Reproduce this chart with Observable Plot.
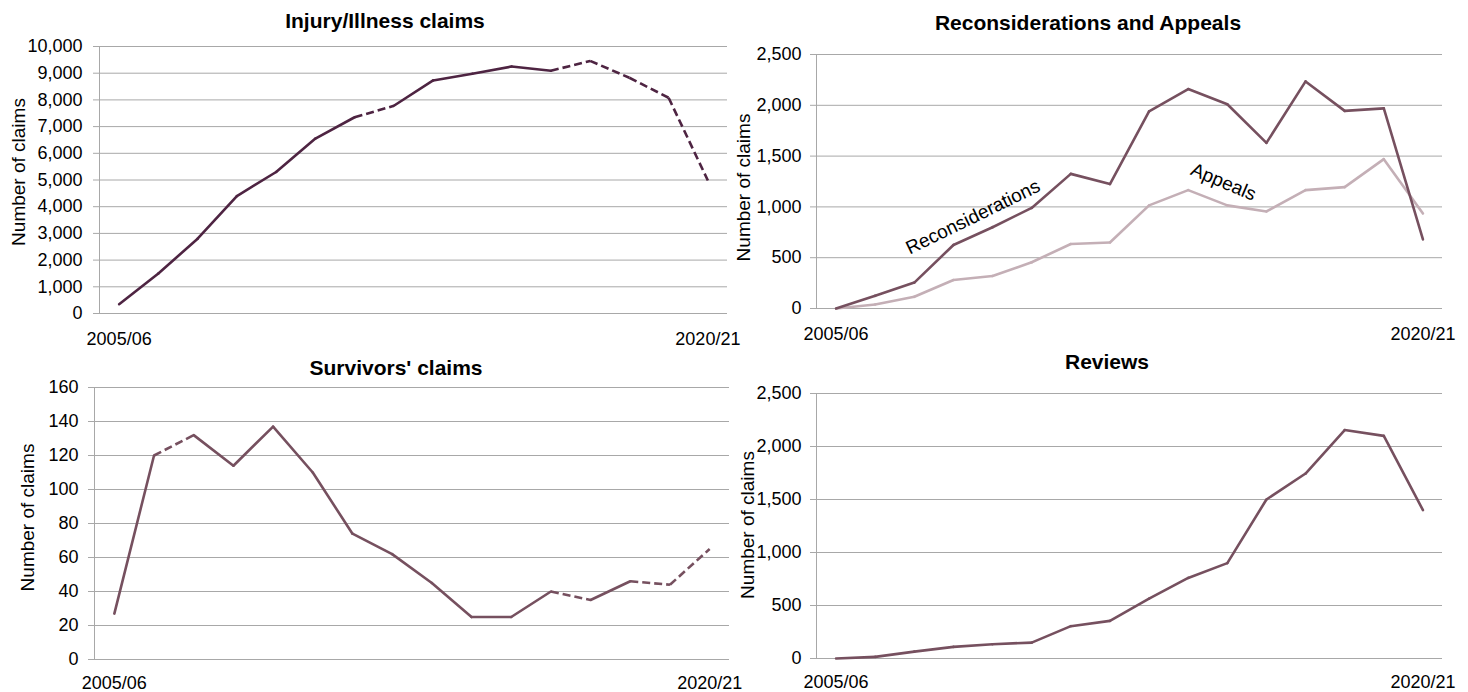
<!DOCTYPE html>
<html>
<head>
<meta charset="utf-8">
<script src="https://cdn.jsdelivr.net/npm/d3@7"></script>
<script src="https://cdn.jsdelivr.net/npm/@observablehq/plot@0.6"></script>
<style>
  html, body { margin: 0; padding: 0; background: #ffffff; }
  #root { position: relative; width: 1468px; height: 692px; overflow: hidden; font-family: "Liberation Sans", Arial, sans-serif; }
  .panel { position: absolute; }
  .panel svg { background: transparent !important; max-width: none !important; overflow: visible; }
  .title { position: absolute; font-weight: bold; font-size: 21px; line-height: 21px; white-space: nowrap; transform: translateX(-50%); color: #000; }
</style>
</head>
<body>
<div id="root"></div>
<script>
const years = ["2005/06","2006/07","2007/08","2008/09","2009/10","2010/11","2011/12","2012/13",
               "2013/14","2014/15","2015/16","2016/17","2017/18","2018/19","2019/20","2020/21"];

const injury = [350,1500,2800,4400,5300,6550,7350,7780,8730,8980,9250,9090,9460,8830,8080,4980];
const injuryDashedSegments = [6,11,12,13,14];

const reconsiderations = [0,125,255,625,800,990,1325,1225,1940,2160,2010,1630,2235,1945,1970,680];
const appeals = [0,40,115,280,320,455,635,650,1015,1165,1015,955,1165,1195,1470,935];

const survivors = [27,120,132,114,137,110,74,62,45,25,25,40,35,46,44,65];
const survivorsDashedSegments = [1,11,13,14];

const reviews = [0,15,65,110,135,150,305,355,565,760,900,1500,1745,2155,2100,1400];

const injuryTicks = [0,1000,2000,3000,4000,5000,6000,7000,8000,9000,10000];
const appealTicks = [0,500,1000,1500,2000,2500];
const survivorTicks = [0,20,40,60,80,100,120,140,160];
const reviewTicks = [0,500,1000,1500,2000,2500];

const raLabels = [
  {text: "Reconsiderations", x: 3.5, y: 900, rotate: -26},
  {text: "Appeals", x: 9.9, y: 1245, rotate: 23}
];

const GRID = "#a8a8a8";
const DARK = "#4e2442";
const MAUVE = "#76505f";
const LIGHT = "#c4afb6";
const fmt = d3.format(",");

function segs(values, dashed = []) {
  return d3.range(values.length - 1).map(i => ({
    x1: i, y1: values[i], x2: i + 1, y2: values[i + 1], dashed: dashed.includes(i)
  }));
}

function seriesMarks(values, dashed, color) {
  const s = segs(values, dashed);
  return [
    Plot.link(s.filter(d => !d.dashed), {x1: "x1", y1: "y1", x2: "x2", y2: "y2", stroke: color, strokeWidth: 2.6, strokeLinecap: "round"}),
    Plot.link(s.filter(d => d.dashed), {x1: "x1", y1: "y1", x2: "x2", y2: "y2", stroke: color, strokeWidth: 2.6, strokeDasharray: "8,4"})
  ];
}

function panel(cfg) {
  const yMax = cfg.ticks[cfg.ticks.length - 1];
  const chart = Plot.plot({
    width: cfg.width, height: cfg.height,
    marginLeft: cfg.ml, marginRight: cfg.mr, marginTop: cfg.mt, marginBottom: cfg.mb,
    style: {fontFamily: '"Liberation Sans", Arial, sans-serif', fontSize: "18px", background: "transparent", color: "#000", overflow: "visible"},
    x: {domain: [-0.5, years.length - 0.5], label: null},
    y: {domain: [0, yMax], label: null},
    marks: [
      Plot.ruleY(cfg.ticks, {stroke: GRID, strokeWidth: 1, insetLeft: -6}),
      Plot.ruleX([-0.5], {y1: 0, y2: yMax, stroke: GRID, strokeWidth: 1}),
      Plot.axisY({ticks: cfg.ticks, tickSize: 0, tickPadding: cfg.tp, tickFormat: fmt, label: null, fontSize: 18}),
      Plot.axisX({ticks: [0, years.length - 1], tickFormat: i => years[i], tickSize: 0, tickPadding: cfg.xtp, label: null, fontSize: 18}),
      Plot.text(["Number of claims"], {frameAnchor: "left", textAnchor: "middle", rotate: -90, dx: cfg.ldx, dy: cfg.ldy, fontSize: 19}),
      ...cfg.marks
    ]
  });
  const div = document.createElement("div");
  div.className = "panel";
  div.style.left = cfg.left + "px";
  div.style.top = cfg.top + "px";
  div.appendChild(chart);
  document.getElementById("root").appendChild(div);

  const t = document.createElement("div");
  t.className = "title";
  t.textContent = cfg.title;
  t.style.left = cfg.tx + "px";
  t.style.top = cfg.ty + "px";
  document.getElementById("root").appendChild(t);
}

panel({
  title: "Injury/Illness claims", tx: 385, ty: 10,
  left: 0, top: 40, width: 760, height: 320, ml: 99, mr: 33, mt: 6, mb: 47, tp: 17, xtp: 19,
  ldx: -81, ldy: -8,
  ticks: injuryTicks,
  marks: seriesMarks(injury, injuryDashedSegments, DARK)
});

panel({
  title: "Reconsiderations and Appeals", tx: 1088, ty: 12,
  left: 730, top: 40, width: 738, height: 320, ml: 86, mr: 26, mt: 14, mb: 52, tp: 15, xtp: 19,
  ldx: -73, ldy: 6,
  ticks: appealTicks,
  marks: [
    ...seriesMarks(appeals, [], LIGHT),
    ...seriesMarks(reconsiderations, [], MAUVE),
    Plot.text(raLabels, {x: "x", y: "y", text: "text", rotate: "rotate", fontSize: 19, fill: "#000"})
  ]
});

panel({
  title: "Survivors' claims", tx: 396, ty: 357,
  left: 0, top: 370, width: 740, height: 322, ml: 94, mr: 11, mt: 17, mb: 33, tp: 16, xtp: 17,
  ldx: -67, ldy: -6,
  ticks: survivorTicks,
  marks: seriesMarks(survivors, survivorsDashedSegments, MAUVE)
});

panel({
  title: "Reviews", tx: 1107, ty: 351,
  left: 730, top: 370, width: 738, height: 322, ml: 86, mr: 26, mt: 23, mb: 34, tp: 15, xtp: 17,
  ldx: -69, ldy: -1,
  ticks: reviewTicks,
  marks: seriesMarks(reviews, [], MAUVE)
});
</script>
</body>
</html>
